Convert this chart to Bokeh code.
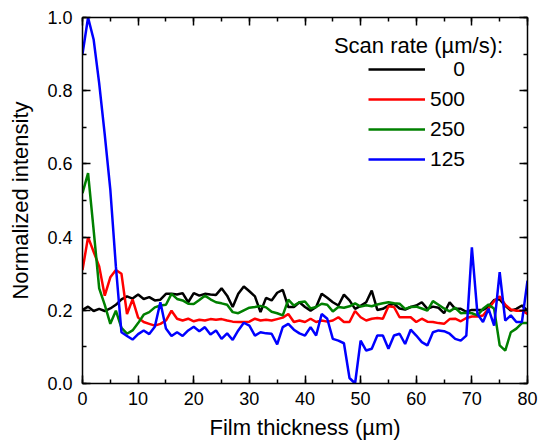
from bokeh.plotting import figure
from bokeh.models import (Range1d, LinearAxis, SingleIntervalTicker, PrintfTickFormatter,
                          CustomJSTickFormatter, Legend, LegendItem, Label)
from bokeh.embed import file_html
from bokeh.resources import INLINE

# ---------------- data ----------------
thickness = list(range(81))  # film thickness grid (µm)

scan_0 = [0.201, 0.210, 0.198, 0.204, 0.198, 0.205, 0.215, 0.230, 0.238, 0.232,
          0.243, 0.231, 0.236, 0.227, 0.229, 0.245, 0.245, 0.243, 0.247, 0.222,
          0.247, 0.240, 0.245, 0.243, 0.242, 0.260, 0.240, 0.209, 0.245, 0.265,
          0.252, 0.238, 0.195, 0.234, 0.227, 0.248, 0.256, 0.209, 0.209, 0.222,
          0.209, 0.199, 0.209, 0.245, 0.234, 0.222, 0.213, 0.243, 0.227, 0.204,
          0.212, 0.222, 0.254, 0.201, 0.204, 0.213, 0.218, 0.205, 0.202, 0.209,
          0.213, 0.222, 0.204, 0.210, 0.207, 0.192, 0.222, 0.204, 0.204, 0.196,
          0.201, 0.201, 0.201, 0.210, 0.228, 0.230, 0.212, 0.199, 0.204, 0.213, 0.199]

scan_500 = [0.31, 0.40, 0.36, 0.32, 0.24, 0.29, 0.31, 0.30, 0.19, 0.23,
            0.180, 0.168, 0.163, 0.158, 0.163, 0.172, 0.199, 0.177, 0.172, 0.177,
            0.170, 0.174, 0.172, 0.176, 0.174, 0.176, 0.172, 0.169, 0.168, 0.168,
            0.169, 0.177, 0.172, 0.174, 0.172, 0.176, 0.180, 0.190, 0.168, 0.172,
            0.168, 0.177, 0.168, 0.172, 0.169, 0.172, 0.181, 0.168, 0.168, 0.198,
            0.181, 0.172, 0.177, 0.179, 0.177, 0.211, 0.209, 0.181, 0.181, 0.181,
            0.168, 0.177, 0.169, 0.168, 0.165, 0.163, 0.176, 0.177, 0.170, 0.179,
            0.183, 0.183, 0.186, 0.205, 0.225, 0.238, 0.215, 0.202, 0.199, 0.199, 0.190]

scan_250 = [0.52, 0.575, 0.42, 0.26, 0.215, 0.163, 0.199, 0.152, 0.136, 0.145,
            0.165, 0.188, 0.195, 0.208, 0.213, 0.215, 0.245, 0.231, 0.227, 0.218,
            0.217, 0.228, 0.240, 0.230, 0.222, 0.219, 0.215, 0.195, 0.192, 0.200,
            0.207, 0.209, 0.212, 0.208, 0.196, 0.192, 0.186, 0.229, 0.213, 0.222,
            0.224, 0.205, 0.209, 0.218, 0.215, 0.197, 0.209, 0.207, 0.211, 0.219,
            0.210, 0.214, 0.211, 0.216, 0.219, 0.222, 0.219, 0.218, 0.204, 0.209,
            0.210, 0.205, 0.199, 0.225, 0.215, 0.205, 0.197, 0.207, 0.192, 0.193,
            0.192, 0.186, 0.204, 0.216, 0.204, 0.104, 0.090, 0.140, 0.150, 0.165, 0.165]

scan_125 = [0.90, 1.00, 0.94, 0.82, 0.68, 0.53, 0.32, 0.14, 0.13, 0.12,
            0.135, 0.145, 0.135, 0.155, 0.222, 0.150, 0.130, 0.140, 0.130, 0.145,
            0.155, 0.143, 0.154, 0.134, 0.145, 0.122, 0.137, 0.119, 0.145, 0.166,
            0.158, 0.131, 0.140, 0.137, 0.136, 0.107, 0.154, 0.163, 0.147, 0.137,
            0.131, 0.154, 0.131, 0.190, 0.177, 0.122, 0.117, 0.110, 0.015, 0.0,
            0.117, 0.090, 0.095, 0.131, 0.131, 0.095, 0.131, 0.136, 0.108, 0.147,
            0.131, 0.113, 0.104, 0.140, 0.145, 0.143, 0.136, 0.122, 0.117, 0.131,
            0.372, 0.190, 0.168, 0.204, 0.158, 0.304, 0.172, 0.186, 0.168, 0.168, 0.281]

series_labels = ["0", "500", "250", "125"]
legend_title = "Scan rate (µm/s):"
x_title = "Film thickness (µm)"
y_title = "Normalized intensity"

# ---------------- figure ----------------
FONT = "Liberation Sans"

p = figure(width=543, height=443, output_backend="svg", toolbar_location=None, title=None,
           x_range=Range1d(0, 80), y_range=Range1d(0, 1.0),
           x_axis_type=None, y_axis_type=None,
           min_border_left=82, min_border_right=16, min_border_top=17, min_border_bottom=60)
p.outline_line_color = None
p.background_fill_color = "white"
p.border_fill_color = "white"


def make_axis(ticker_interval, show_labels, fmt=None, standoff=8):
    ax = LinearAxis(ticker=SingleIntervalTicker(interval=ticker_interval, num_minor_ticks=2))
    ax.axis_line_color = "black"
    ax.axis_line_width = 1.5
    ax.major_tick_line_color = "black"
    ax.major_tick_line_width = 1.5
    ax.minor_tick_line_color = "black"
    ax.minor_tick_line_width = 1.5
    ax.major_tick_in = 8
    ax.major_tick_out = 0
    ax.minor_tick_in = 4
    ax.minor_tick_out = 0
    if show_labels:
        ax.formatter = PrintfTickFormatter(format=fmt)
        ax.major_label_text_font = FONT
        ax.major_label_text_font_size = "18px"
        ax.major_label_text_color = "black"
        ax.major_label_standoff = standoff
        ax.axis_label_text_font = FONT
        ax.axis_label_text_font_size = "22px"
        ax.axis_label_text_font_style = "normal"
        ax.axis_label_text_color = "black"
    else:
        ax.formatter = CustomJSTickFormatter(code="return ''")
        ax.major_label_standoff = 0
    return ax


xaxis = make_axis(10, True, "%d", standoff=8)
xaxis.axis_label = x_title
xaxis.axis_label_standoff = 7
yaxis = make_axis(0.2, True, "%.1f", standoff=10)
yaxis.axis_label = y_title
yaxis.axis_label_standoff = 11
p.add_layout(xaxis, "below")
p.add_layout(yaxis, "left")
p.add_layout(make_axis(10, False), "above")
p.add_layout(make_axis(0.2, False), "right")

colors = ["black", "#FF0000", "#008000", "#0000FF"]
series = [scan_0, scan_500, scan_250, scan_125]
renderers = []
for ys, c in zip(series, colors):
    renderers.append(p.line(thickness, ys, line_color=c, line_width=2.5))

pad = ["\u2007\u2007", "", "", ""]
items = [LegendItem(label=pd + lab, renderers=[r]) for pd, lab, r in zip(pad, series_labels, renderers)]
legend = Legend(items=items, location=(286, 212), padding=0, margin=0, spacing=6,
                glyph_width=57, glyph_height=24, label_height=24, label_standoff=5,
                label_text_font=FONT, label_text_font_size="21px", label_text_color="black",
                background_fill_alpha=0, border_line_alpha=0)
p.add_layout(legend)

p.add_layout(Label(x=45.2, y=0.924, text=legend_title, text_font=FONT, text_font_size="22px",
                   text_color="black", text_align="left", text_baseline="alphabetic"))

open("out.html", "w").write(file_html(p, INLINE))
